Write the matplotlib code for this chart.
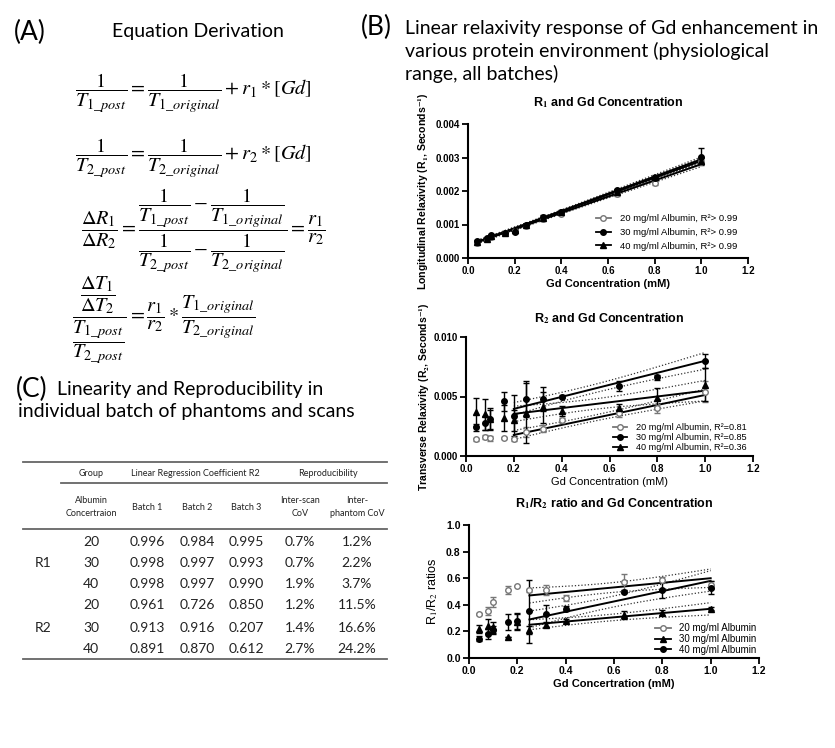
import numpy as np
import matplotlib
matplotlib.use('Agg')
import matplotlib.pyplot as plt
from matplotlib.lines import Line2D

plt.rcParams['mathtext.fontset'] = 'stix'
plt.rcParams['font.family'] = ['Liberation Sans', 'DejaVu Sans']

# ---- data ----
gd = [0.04, 0.08, 0.10, 0.16, 0.20, 0.25, 0.32, 0.40, 0.64, 0.80, 1.00]
groups = ['20 mg/ml Albumin', '30 mg/ml Albumin', '40 mg/ml Albumin']

r1_20 = [0.00046, 0.00056, 0.00062, 0.00074, 0.00080, 0.00096, 0.00116, 0.00132, 0.00190, 0.00224, 0.00286]
r1_30 = [0.00050, 0.00060, 0.00068, 0.00076, 0.00078, 0.00098, 0.00122, 0.00138, 0.00202, 0.00238, 0.00302]
r1_40 = [0.00048, 0.00058, 0.00066, 0.00076, 0.00084, 0.00098, 0.00118, 0.00136, 0.00198, 0.00242, 0.00290]
r1_err_20 = [0.00003, 0.00003, 0.00003, 0.00003, 0.00003, 0.00003, 0.00003, 0.00004, 0.00004, 0.00005, 0.00006]
r1_err_30 = [0.00003, 0.00004, 0.00004, 0.00003, 0.00004, 0.00004, 0.00006, 0.00004, 0.00005, 0.00006, 0.00025]
r1_err_40 = [0.00003, 0.00003, 0.00003, 0.00003, 0.00003, 0.00003, 0.00004, 0.00004, 0.00005, 0.00006, 0.00008]
r1_slope = [0.002427, 0.00257, 0.00252]
r1_icpt = [0.000373, 0.000377, 0.00038]
r1_ci = [0.0001, 0.0001, 0.0001]
r1_r2 = ['> 0.99', '> 0.99', '> 0.99']

r2_20 = [0.0014, 0.0016, 0.0015, 0.0015, 0.0014, 0.0020, 0.0023, 0.0030, 0.0036, 0.0040, 0.0054]
r2_30 = [0.0024, 0.0028, 0.0031, 0.0046, 0.0034, 0.0048, 0.0048, 0.0050, 0.0059, 0.0066, 0.0080]
r2_40 = [0.0037, 0.0035, 0.0031, 0.0032, 0.0030, 0.0036, 0.0041, 0.0038, 0.0040, 0.0049, 0.0060]
r2_err_20 = [0.0001, 0.0002, 0.0002, 0.0001, 0.0001, 0.0004, 0.0003, 0.0002, 0.0003, 0.0004, 0.0009]
r2_err_30 = [0.0003, 0.0006, 0.0009, 0.0008, 0.0017, 0.0015, 0.0010, 0.0001, 0.0004, 0.0002, 0.0006]
r2_err_40 = [0.0012, 0.0013, 0.0008, 0.0011, 0.0009, 0.0025, 0.0013, 0.0004, 0.0004, 0.0008, 0.0014]
r2_slope = [0.0042, 0.00505, 0.00244]
r2_icpt = [0.00093, 0.00295, 0.00305]
r2_ci = [0.00066, 0.00093, 0.00115]
r2_r2 = ['=0.81', '=0.85', '=0.36']

ratio_20 = [0.33, 0.35, 0.42, 0.51, 0.54, 0.51, 0.51, 0.45, 0.57, 0.59, 0.55]
ratio_30 = [0.22, 0.24, 0.23, 0.16, 0.27, 0.21, 0.25, 0.28, 0.32, 0.34, 0.37]
ratio_40 = [0.145, 0.18, 0.21, 0.27, 0.28, 0.35, 0.33, 0.37, 0.50, 0.51, 0.53]
ratio_err_20 = [0.01, 0.03, 0.04, 0.03, 0.00, 0.01, 0.04, 0.02, 0.06, 0.02, 0.03]
ratio_err_30 = [0.03, 0.05, 0.04, 0.00, 0.06, 0.03, 0.02, 0.01, 0.03, 0.02, 0.01]
ratio_err_40 = [0.02, 0.04, 0.03, 0.06, 0.06, 0.24, 0.07, 0.02, 0.01, 0.06, 0.05]
ratio_slope = [0.173, 0.16, 0.387]
ratio_icpt = [0.427, 0.21, 0.193]
ratio_ci = [0.09, 0.06, 0.10]

tbl_group = ['R1', 'R1', 'R1', 'R2', 'R2', 'R2']
tbl_albumin = ['20', '30', '40', '20', '30', '40']
tbl_batch1 = ['0.996', '0.998', '0.998', '0.961', '0.913', '0.891']
tbl_batch2 = ['0.984', '0.997', '0.997', '0.726', '0.916', '0.870']
tbl_batch3 = ['0.995', '0.993', '0.990', '0.850', '0.207', '0.612']
tbl_scan = ['0.7%', '0.7%', '1.9%', '1.2%', '1.4%', '2.7%']
tbl_phantom = ['1.2%', '2.2%', '3.7%', '11.5%', '16.6%', '24.2%']

W, H = 835, 748
fig = plt.figure(figsize=(W / 100, H / 100), dpi=100)


def fx(x):
    return x / W


def fy(y):
    return 1 - y / H


head = ['Lato', 'DejaVu Sans']

# ---- (A) equations ----
fig.text(fx(14), fy(32), '(A)', fontsize=19, family=head, va='center')
fig.text(fx(198), fy(32), 'Equation Derivation', fontsize=14, family=head, va='center', ha='center')
eqs = [
    r'$\dfrac{1}{T_{1\_post}} = \dfrac{1}{T_{1\_original}} + r_1 * [Gd]$',
    r'$\dfrac{1}{T_{2\_post}} = \dfrac{1}{T_{2\_original}} + r_2 * [Gd]$',
    r'$\dfrac{\Delta R_1}{\Delta R_2} = \dfrac{\dfrac{1}{T_{1\_post}} - \dfrac{1}{T_{1\_original}}}'
    r'{\dfrac{1}{T_{2\_post}} - \dfrac{1}{T_{2\_original}}} = \dfrac{r_1}{r_2}$',
    r'$\dfrac{\dfrac{\Delta T_1}{\Delta T_2}}{\dfrac{T_{1\_post}}{T_{2\_post}}} = \dfrac{r_1}{r_2} * \dfrac{T_{1\_original}}{T_{2\_original}}$',
]
eq_y = [93, 158, 231, 320]
eq_x = [75, 75, 81, 72]
for e, yy, xx in zip(eqs, eq_y, eq_x):
    fig.text(fx(xx), fy(yy), e, fontsize=14.6, va='center', ha='left')

# ---- (B) heading ----
fig.text(fx(361), fy(27), '(B)', fontsize=19, family=head, va='center')
fig.text(fx(405), fy(20), 'Linear relaxivity response of Gd enhancement in\n'
         'various protein environment (physiological\nrange, all batches)',
         fontsize=14, family=head, va='top', ha='left', linespacing=1.33)

# ---- (C) table ----
fig.text(fx(16), fy(389), '(C)', fontsize=19, family=head, va='center')
fig.text(fx(57), fy(389), 'Linearity and Reproducibility in', fontsize=14, family=head, va='center')
fig.text(fx(18), fy(412), 'individual batch of phantoms and scans', fontsize=14, family=head, va='center')

tcol = '#222222'
lcol = '#666666'
for (x0, x1, yy) in [(23, 387, 462), (61, 387, 483), (23, 387, 529), (23, 387, 659)]:
    fig.add_artist(Line2D([fx(x0), fx(x1)], [fy(yy), fy(yy)], transform=fig.transFigure,
                          color=lcol, lw=1.3))
hdr = dict(fontsize=6.5, family=head, color=tcol, ha='center', va='center')
fig.text(fx(91), fy(473), 'Group', **hdr)
fig.text(fx(195), fy(473), 'Linear Regression Coefficient R2', **hdr)
fig.text(fx(328), fy(473), 'Reproducibility', **hdr)
sub_x = [91, 147, 197, 246, 300, 357]
sub_txt = ['Albumin\nConcertraion', 'Batch 1', 'Batch 2', 'Batch 3', 'Inter-scan\nCoV', 'Inter-\nphantom CoV']
for sx, st in zip(sub_x, sub_txt):
    fig.text(fx(sx), fy(507), st, linespacing=1.7, **hdr)

row_y = [542, 563, 584, 605, 628, 649]
cells = dict(fontsize=10, family=head, color=tcol, ha='center', va='center')
for i, ry in enumerate(row_y):
    for sx, col in zip(sub_x, [tbl_albumin, tbl_batch1, tbl_batch2, tbl_batch3, tbl_scan, tbl_phantom]):
        fig.text(fx(sx), fy(ry), col[i], **cells)
for g in ['R1', 'R2']:
    idx = [i for i, v in enumerate(tbl_group) if v == g]
    fig.text(fx(43), fy(row_y[idx[len(idx) // 2]]), g, **cells)

# ---- (B) plots ----
styles = [dict(marker='o', mfc='white', mec='#777777', color='#777777'),
          dict(marker='o', mfc='black', mec='black', color='black'),
          dict(marker='^', mfc='black', mec='black', color='black')]


def prism_axes(rect, ylim, yticks, yfmt, tick_fs=7):
    ax = fig.add_axes(rect)
    for s in ['top', 'right']:
        ax.spines[s].set_visible(False)
    for s in ['left', 'bottom']:
        ax.spines[s].set_linewidth(1.5)
    ax.set_xlim(0, 1.2)
    ax.set_ylim(*ylim)
    ax.set_xticks(np.arange(0, 1.21, 0.2))
    ax.set_xticklabels(['%.1f' % v for v in np.arange(0, 1.21, 0.2)])
    ax.set_yticks(yticks)
    ax.set_yticklabels([yfmt % v for v in yticks])
    ax.tick_params(direction='out', length=4, width=1.3, labelsize=tick_fs, pad=2)
    for lab in ax.get_xticklabels() + ax.get_yticklabels():
        lab.set_fontweight('bold')
    return ax


def draw_fit(ax, xs, slope, icpt, k, color='black'):
    xs = np.asarray(xs)
    n = len(xs)
    mx = xs.mean()
    sxx = ((xs - mx) ** 2).sum()
    xx = np.linspace(xs.min(), xs.max(), 60)
    yy = icpt + slope * xx
    hw = k * np.sqrt(1.0 / n + (xx - mx) ** 2 / sxx)
    ax.plot(xx, yy, color=color, lw=1.4, zorder=2)
    ax.plot(xx, yy + hw, color='#333333', lw=0.9, ls=(0, (1, 1.6)), zorder=1)
    ax.plot(xx, yy - hw, color='#333333', lw=0.9, ls=(0, (1, 1.6)), zorder=1)


def draw_points(ax, ys, errs, st, ms=4):
    ax.errorbar(gd, ys, yerr=errs, fmt='none', ecolor=st['color'], elinewidth=1,
                capsize=2, capthick=1, zorder=3)
    ax.plot(gd, ys, ls='none', marker=st['marker'], mfc=st['mfc'], mec=st['mec'],
            ms=ms, mew=1, zorder=4)


def legend_handles(sts):
    return [Line2D([0], [0], color=s['color'], lw=1.3, marker=s['marker'], mfc=s['mfc'],
                   mec=s['mec'], ms=4) for s in sts]


leg_kw = dict(loc='lower left', frameon=False, handlelength=1.6, handletextpad=0.9,
              numpoints=1, borderpad=0.2, borderaxespad=0)

# R1
ax1 = prism_axes([fx(468), fy(258), fx(280), 134 / H], (0, 0.004),
                 [0, 0.001, 0.002, 0.003, 0.004], '%.3f')
gd_arr = np.array(gd)
for ys, er, sl, ic, k, st in zip([r1_20, r1_30, r1_40], [r1_err_20, r1_err_30, r1_err_40],
                                  r1_slope, r1_icpt, r1_ci, styles):
    draw_fit(ax1, gd_arr, sl, ic, k)
    draw_points(ax1, ys, er, st)
ax1.set_title(r'R$_\mathbf{1}$ and Gd Concentration', fontsize=9, fontweight='bold', pad=13)
ax1.set_xlabel('Gd Concentration (mM)', fontsize=8, fontweight='bold', labelpad=2)
ax1.set_ylabel(r'Longitudinal Relaxivity (R$_\mathbf{1}$, Seconds$^\mathbf{-1}$)', fontsize=7.6,
               fontweight='bold', labelpad=3)
ax1.legend(legend_handles(styles),
           [g + ', R\u00b2' + r for g, r in zip(groups, r1_r2)],
           bbox_to_anchor=(0.45, 0.04), fontsize=6.8, labelspacing=0.5, **leg_kw)

# R2
fit_x2 = gd_arr[gd_arr >= 0.2]
ax2 = prism_axes([fx(466), fy(456), fx(287), 119 / H], (0, 0.010),
                 [0, 0.005, 0.010], '%.3f')
for ys, er, sl, ic, k, st in zip([r2_20, r2_30, r2_40], [r2_err_20, r2_err_30, r2_err_40],
                                  r2_slope, r2_icpt, r2_ci, styles):
    draw_fit(ax2, fit_x2, sl, ic, k)
    draw_points(ax2, ys, er, st)
ax2.set_title(r'R$_\mathbf{2}$ and Gd Concentration', fontsize=9, fontweight='bold', pad=11)
ax2.set_xlabel('Gd Concentration (mM)', fontsize=8, fontweight='normal', labelpad=2)
ax2.set_ylabel(r'Transverse Relaxivity (R$_\mathbf{2}$, Seconds$^\mathbf{-1}$)', fontsize=7.5,
               fontweight='bold', labelpad=1)
ax2.legend(legend_handles(styles),
           [g + ', R\u00b2' + r for g, r in zip(groups, r2_r2)],
           bbox_to_anchor=(0.505, 0.02), fontsize=6.6, labelspacing=0.1, **leg_kw)

# R1/R2 ratio
fit_x3 = gd_arr[gd_arr >= 0.25]
styles3 = [styles[0], styles[2], styles[1]]
ax3 = prism_axes([fx(469), fy(658), fx(290), 133 / H], (0, 1.0),
                 [0, 0.2, 0.4, 0.6, 0.8, 1.0], '%.1f', tick_fs=7.5)
for ys, er, sl, ic, k, st in zip([ratio_20, ratio_30, ratio_40],
                                  [ratio_err_20, ratio_err_30, ratio_err_40],
                                  ratio_slope, ratio_icpt, ratio_ci, styles3):
    draw_fit(ax3, fit_x3, sl, ic, k)
    draw_points(ax3, ys, er, st)
ax3.set_title(r'R$_\mathbf{1}$/R$_\mathbf{2}$ ratio and Gd Concentration', fontsize=9,
              fontweight='bold', pad=13)
ax3.set_xlabel('Gd Concertration (mM)', fontsize=8, fontweight='bold', labelpad=2)
ax3.set_ylabel(r'R$_1$/R$_2$ ratios', fontsize=9, labelpad=4)
ax3.legend(legend_handles(styles3), groups,
           bbox_to_anchor=(0.635, 0.01), fontsize=7, labelspacing=0.08, **leg_kw)

fig.savefig('out.png', dpi=100)
